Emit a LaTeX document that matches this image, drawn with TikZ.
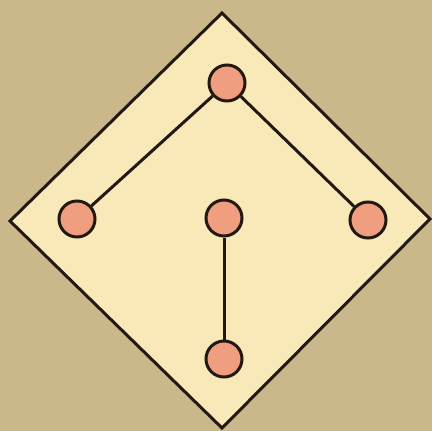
\documentclass[tikz,border=0pt]{standalone}
\definecolor{papel}{RGB}{203,184,138}
\definecolor{campo}{RGB}{250,233,184}
\definecolor{bolacor}{RGB}{240,158,128}
\definecolor{traco}{RGB}{35,25,20}
\begin{document}
\begin{tikzpicture}[x=1pt, y=-1pt,
    bola/.style={circle, draw=traco, line width=3pt, fill=bolacor,
      minimum size=36pt, inner sep=0pt},
    ligacao/.style={draw=traco, line width=3pt}]
  % fundo
  \fill[papel] (0,0) rectangle (432,431);
  \useasboundingbox (0,0) rectangle (432,431);
  % o losango
  \coordinate (topo) at (222,13);
  \coordinate (esq) at (10,221);
  \coordinate (dir) at (430,219);
  \coordinate (baixo) at (222,428);
  \draw[draw=traco, fill=campo, line width=3pt, line join=miter]
    (topo) -- (dir) -- (baixo) -- (esq) -- cycle;
  % bolas e ligacoes
  \node[bola] (raiz) at (227,83) {};
  \node[bola] (folhaesq) at (77,219) {};
  \node[bola] (meio) at (224,218) {};
  \node[bola] (folhadir) at (368,220) {};
  \node[bola] (fundo) at (224,359) {};
  \draw[ligacao] (raiz) -- (folhaesq);
  \draw[ligacao] (raiz) -- (folhadir);
  \draw[ligacao] (meio) -- (fundo);
\end{tikzpicture}
\end{document}
